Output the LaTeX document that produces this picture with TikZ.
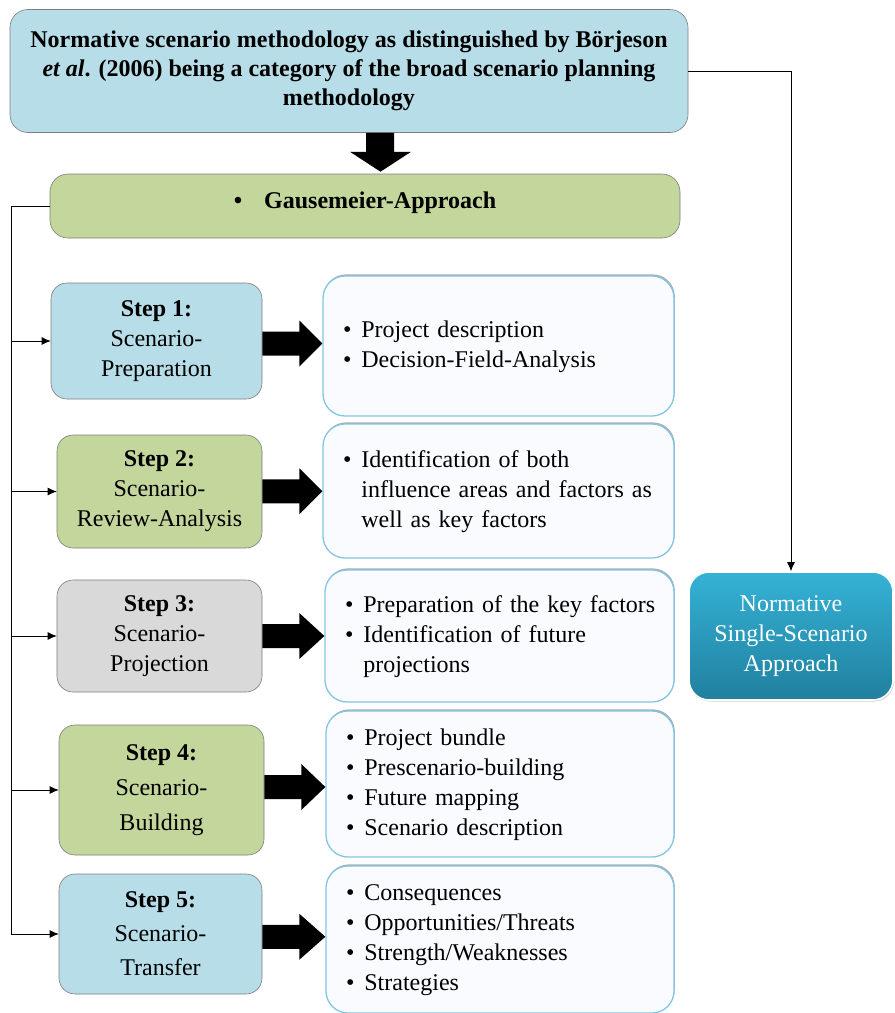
\documentclass[tikz,border=0pt]{standalone}
\usepackage{fontspec}
\setmainfont{Liberation Serif}
\usetikzlibrary{calc,shadows,arrows.meta}
\definecolor{BlueClr}{RGB}{183,221,232}
\definecolor{GreenClr}{RGB}{195,214,155}
\definecolor{GreyClr}{RGB}{217,217,217}
\definecolor{EdgeClr}{RGB}{125,125,125}
\definecolor{ListClr}{RGB}{249,251,255}
\definecolor{ListEdgeClr}{RGB}{130,198,226}
\definecolor{TealTopClr}{RGB}{52,178,214}
\definecolor{TealBotClr}{RGB}{33,128,158}

\tikzset{
  bigbox/.style={draw=EdgeClr, line width=0.6pt, rounded corners=18pt, fill=#1,
    align=center, inner sep=0pt, font=\fontsize{24}{29}\selectfont\bfseries},
  stepbox/.style={draw=EdgeClr, line width=0.6pt, rounded corners=16pt, fill=#1,
    align=center, inner sep=0pt, font=\fontsize{24}{30}\selectfont},
  listbox/.style={draw=ListEdgeClr, line width=1.3pt, rounded corners=22pt, fill=ListClr,
    drop shadow={shadow xshift=0.8pt, shadow yshift=1.6pt, fill=gray!80, opacity=0.8},
    align=left, inner sep=0pt, font=\fontsize{24}{30}\selectfont},
  goalbox/.style={draw=white, line width=1.6pt, rounded corners=20pt,
    top color=TealTopClr, bottom color=TealBotClr,
    drop shadow={shadow xshift=1pt, shadow yshift=-1.5pt, fill=gray!60, opacity=0.6},
    text=white, align=center, inner sep=0pt, font=\fontsize{24}{30}\selectfont},
  link/.style={line width=0.8pt, -{Latex[length=9pt,width=8pt]}}
}

\begin{document}
\begin{tikzpicture}[x=1pt,y=-1pt]
\useasboundingbox (0,0) rectangle (895,1013);

% top of the hierarchy
\node[bigbox=BlueClr, minimum width=678pt, minimum height=123pt] (top) at (349,71)
  {Normative scenario methodology as distinguished by Börjeson\\
   \textit{et al}. (2006) being a category of the broad scenario planning\\
   methodology};
\node[bigbox=GreenClr, minimum width=630pt, minimum height=64pt] (gaus) at (365,206)
  {\textbullet\hspace{22pt}Gausemeier-Approach\rule[-12pt]{0pt}{0pt}};
\node[goalbox, minimum width=204pt, minimum height=128pt] (norm) at (791,636)
  {Normative\\Single-Scenario\\Approach};

% the five steps
\node[stepbox=BlueClr, minimum width=211pt, minimum height=116pt] (s1) at (156.5,341)
  {\textbf{Step 1:}\\Scenario-\\Preparation};
\node[stepbox=GreenClr, minimum width=205pt, minimum height=113pt] (s2) at (159.5,491.5)
  {\textbf{Step 2:}\\Scenario-\\Review-Analysis};
\node[stepbox=GreyClr, minimum width=205pt, minimum height=112pt] (s3) at (159.5,636)
  {\textbf{Step 3:}\\Scenario-\\Projection};
\node[stepbox=GreenClr, minimum width=205pt, minimum height=130pt,
  font=\fontsize{24}{35}\selectfont] (s4) at (161.5,790)
  {\textbf{Step 4:}\\Scenario-\\Building};
\node[stepbox=BlueClr, minimum width=203pt, minimum height=120pt,
  font=\fontsize{24}{34}\selectfont] (s5) at (160.5,934)
  {\textbf{Step 5:}\\Scenario-\\Transfer};

% what each step contains
\node[listbox, minimum width=351pt, minimum height=140pt, text width=311pt] (d1) at (498.5,346)
  {\begin{tabular}{@{}l@{\hspace{10pt}}l@{}}
   \textbullet & Project description\\
   \textbullet & Decision-Field-Analysis
   \end{tabular}};
\node[listbox, minimum width=351pt, minimum height=134pt, text width=311pt] (d2) at (498.5,491)
  {\begin{tabular}{@{}l@{\hspace{10pt}}l@{}}
   \textbullet & Identification of both\\
               & influence areas and factors as\\
               & well as key factors
   \end{tabular}};
\node[listbox, minimum width=349pt, minimum height=132pt, text width=309pt] (d3) at (499.5,636)
  {\begin{tabular}{@{}l@{\hspace{10pt}}l@{}}
   \textbullet & Preparation of the key factors\\
   \textbullet & Identification of future\\
               & projections
   \end{tabular}};
\node[listbox, minimum width=348pt, minimum height=146pt, text width=308pt] (d4) at (500,784)
  {\begin{tabular}{@{}l@{\hspace{10pt}}l@{}}
   \textbullet & Project bundle\\
   \textbullet & Prescenario-building\\
   \textbullet & Future mapping\\
   \textbullet & Scenario description
   \end{tabular}};
\node[listbox, minimum width=348pt, minimum height=147pt, text width=308pt] (d5) at (500,939.5)
  {\begin{tabular}{@{}l@{\hspace{10pt}}l@{}}
   \textbullet & Consequences\\
   \textbullet & Opportunities/Threats\\
   \textbullet & Strength/Weaknesses\\
   \textbullet & Strategies
   \end{tabular}};

% block arrows
\fill[black] ($(top.south)+(17,0)$) -- ++(28,0) -- ++(0,19) -- ++(17,0)
  -- ($(gaus.north)+(15.5,-2)$) -- ($(top.south)+(1,19)$) -- ++(16,0) -- cycle;
\foreach \i in {1,...,5}{
  \coordinate (m) at ($(s\i.east)!.5!(d\i.west)$);
  \fill[black] ($(s\i.east |- m)+(0,-12)$) -- ++(37,0) -- ++(0,-11) -- (d\i.west |- m)
    -- ($(s\i.east |- m)+(37,23)$) -- ++(0,-11) -- ++(-37,0) -- cycle;
}

% connectors
\coordinate (rail) at (11,0);
\draw[line width=0.8pt] (gaus.west) -| (rail |- s5.west);
\foreach \i in {1,...,5}
  \draw[link] (rail |- s\i.west) -- (s\i.west);
\draw[link] (top.east) -| (norm.north);

\end{tikzpicture}
\end{document}
